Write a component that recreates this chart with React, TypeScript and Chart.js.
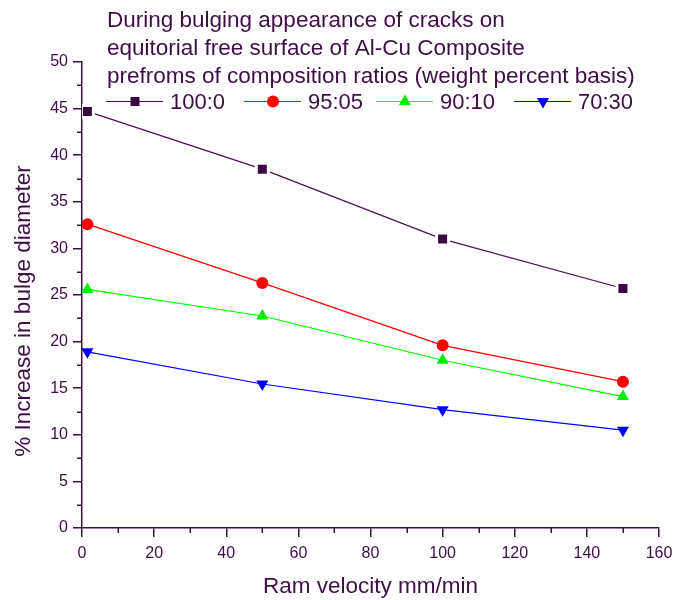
import React, { useEffect, useRef } from "react";
import { Chart, registerables } from "chart.js";

Chart.register(...registerables);

// ---- data ----
const ramVelocity = [1.5, 50, 100, 150];
const series100_0 = [44.7, 38.5, 31.0, 25.7];
const series95_05 = [32.6, 26.3, 19.6, 15.7];
const series90_10 = [25.6, 22.75, 18.0, 14.1];
const series70_30 = [18.9, 15.45, 12.7, 10.5];
const seriesLabels = ["100:0", "95:05", "90:10", "70:30"];
const titleLines = [
  "During bulging appearance of cracks on",
  "equitorial free surface of Al-Cu Composite",
  "prefroms of composition ratios (weight percent basis)",
];
const xTitle = "Ram velocity mm/min";
const yTitle = "% Increase in bulge diameter";
const xMin = 0;
const xMax = 160;
const xStep = 20;
const yMin = 0;
const yMax = 50;
const yStep = 5;

// ---- styles ----
const FONT = "'Liberation Sans', Arial, sans-serif";
const AXIS = "#3c0f45";
const seriesColors = ["#3a0840", "#ff0000", "#00ee00", "#0000ff"];
const lineColors = ["#4a1050", "#ff0000", "#00ff00", "#0000ff"];
const pointStyles = ["rect", "circle", "triangle", "triangle"];
const pointRotations = [0, 0, 0, 180];

function drawMarker(ctx: CanvasRenderingContext2D, kind: number, x: number, y: number) {
  ctx.fillStyle = seriesColors[kind];
  ctx.beginPath();
  if (kind === 0) {
    ctx.rect(x - 4.5, y - 4.5, 9, 9);
  } else if (kind === 1) {
    ctx.arc(x, y, 6, 0, Math.PI * 2);
  } else if (kind === 2) {
    const r = 7;
    ctx.moveTo(x, y - r);
    ctx.lineTo(x + 0.866 * r, y + 0.5 * r);
    ctx.lineTo(x - 0.866 * r, y + 0.5 * r);
    ctx.closePath();
  } else {
    const r = 7;
    ctx.moveTo(x, y + r);
    ctx.lineTo(x + 0.866 * r, y - 0.5 * r);
    ctx.lineTo(x - 0.866 * r, y - 0.5 * r);
    ctx.closePath();
  }
  ctx.fill();
}

const decorPlugin = {
  id: "decor",
  afterDraw(chart: any) {
    const ctx: CanvasRenderingContext2D = chart.ctx;
    const xs = chart.scales.x;
    const ys = chart.scales.y;
    const area = chart.chartArea;
    ctx.save();
    // minor ticks
    ctx.strokeStyle = AXIS;
    ctx.lineWidth = 1.5;
    ctx.beginPath();
    for (let v = xMin + xStep / 2; v < xMax; v += xStep) {
      const px = Math.round(xs.getPixelForValue(v)) + 0.25;
      ctx.moveTo(px, area.bottom);
      ctx.lineTo(px, area.bottom + 5);
    }
    for (let v = yMin + yStep / 2; v < yMax; v += yStep) {
      const py = Math.round(ys.getPixelForValue(v)) + 0.25;
      ctx.moveTo(area.left, py);
      ctx.lineTo(area.left - 5, py);
    }
    ctx.stroke();

    // title lines
    ctx.fillStyle = AXIS;
    ctx.font = `22.5px ${FONT}`;
    ctx.textAlign = "left";
    ctx.textBaseline = "alphabetic";
    titleLines.forEach((t, i) => ctx.fillText(t, 107, 27 + i * 28));

    // legend
    const legendX = [106, 244, 376, 514];
    const ly = 101.5;
    chart.data.datasets.forEach((ds: any, i: number) => {
      const x0 = legendX[i];
      ctx.strokeStyle = ds.borderColor;
      ctx.lineWidth = 1.2;
      ctx.beginPath();
      ctx.moveTo(x0, ly);
      ctx.lineTo(x0 + 57, ly);
      ctx.stroke();
      drawMarker(ctx, i, x0 + 29, ly);
      ctx.fillStyle = AXIS;
      ctx.font = `22px ${FONT}`;
      ctx.fillText(ds.label, x0 + 64, 108.5);
    });

    // y axis title
    ctx.translate(30, (area.top + area.bottom) / 2 + 16);
    ctx.rotate(-Math.PI / 2);
    ctx.textAlign = "center";
    ctx.font = `22.5px ${FONT}`;
    ctx.fillStyle = AXIS;
    ctx.fillText(yTitle, 0, 0);
    ctx.restore();
  },
};

export default function App() {
  const ref = useRef<HTMLCanvasElement | null>(null);
  useEffect(() => {
    if (!ref.current) return;
    const allSeries = [series100_0, series95_05, series90_10, series70_30];
    const chart = new Chart(ref.current, {
      type: "line",
      data: {
        datasets: allSeries.map((s, i) => ({
          label: seriesLabels[i],
          data: s.map((v, j) => ({ x: ramVelocity[j], y: v })),
          borderColor: lineColors[i],
          backgroundColor: seriesColors[i],
          borderWidth: 1.2,
          pointStyle: pointStyles[i] as any,
          rotation: pointRotations[i],
          pointRadius: i === 0 ? 8.5 : i === 1 ? 6 : 7,
          pointBorderWidth: i === 0 ? 3 : 0,
          pointBorderColor: i === 0 ? "#ffffff" : seriesColors[i],
          pointBackgroundColor: seriesColors[i],
          tension: 0,
          fill: false,
        })),
      },
      options: {
        animation: false,
        responsive: false,
        events: [],
        layout: { padding: { top: 62, right: 18, left: 0, bottom: 0 } },
        plugins: {
          legend: { display: false },
          title: { display: false },
          tooltip: { enabled: false },
        },
        scales: {
          x: {
            type: "linear",
            min: xMin,
            max: xMax,
            afterFit: (s: any) => {
              s.height = 72;
              s.paddingLeft = 0;
              s.paddingRight = 0;
            },
            ticks: {
              stepSize: xStep,
              color: AXIS,
              font: { family: FONT, size: 16 },
              padding: 7,
              maxRotation: 0,
            },
            grid: {
              drawOnChartArea: false,
              drawTicks: true,
              tickLength: 9,
              color: AXIS,
              lineWidth: 1.5,
            },
            border: { display: true, color: AXIS, width: 1.5 },
            title: {
              display: true,
              text: xTitle,
              color: AXIS,
              font: { family: FONT, size: 22.5 },
              padding: { top: 0, bottom: 0 },
            },
          },
          y: {
            type: "linear",
            min: yMin,
            max: yMax,
            afterFit: (s: any) => {
              s.width = 82;
              s.paddingTop = 0;
              s.paddingBottom = 0;
            },
            ticks: {
              stepSize: yStep,
              color: AXIS,
              font: { family: FONT, size: 16 },
              padding: 5,
            },
            grid: {
              drawOnChartArea: false,
              drawTicks: true,
              tickLength: 9,
              color: AXIS,
              lineWidth: 1.5,
            },
            border: { display: true, color: AXIS, width: 1.5 },
          },
        },
      },
      plugins: [decorPlugin],
    });
    return () => chart.destroy();
  }, []);
  return (
    <div style={{ position: "absolute", left: 0, top: 0, width: 677, height: 600, background: "#fff" }}>
      <canvas ref={ref} width={677} height={600} style={{ display: "block" }} />
    </div>
  );
}
